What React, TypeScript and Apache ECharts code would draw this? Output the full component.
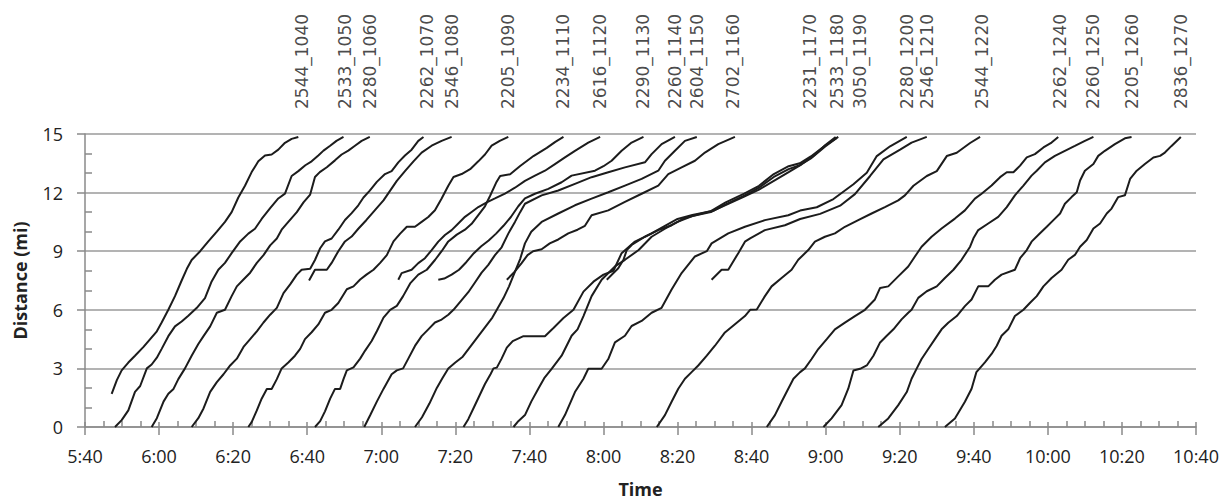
import React, { useEffect, useRef } from "react";
import * as echarts from "echarts";

// time in minutes after midnight, distance in miles
const timeMin = 340; // 5:40
const timeMax = 640; // 10:40
const distTicks = [0, 3, 6, 9, 12, 15];

const tripLabels = [
  "2544_1040", "2533_1050", "2280_1060", "2262_1070", "2546_1080", "2205_1090",
  "2234_1110", "2616_1120", "2290_1130", "2260_1140", "2604_1150", "2702_1160",
  "2231_1170", "2533_1180", "3050_1190", "2280_1200", "2546_1210", "2544_1220",
  "2262_1240", "2260_1250", "2205_1260", "2836_1270",
];
const labelTimes = [
  398.5, 410.2, 417.0, 432.3, 439.0, 454.3, 469.2, 479.1, 490.7, 499.3, 505.2, 515.0,
  535.8, 543.0, 549.3, 561.9, 567.3, 582.1, 603.3, 612.2, 622.7, 636.0,
];

const trip1040 = [[347.2,1.7],[348.6,2.4],[349.9,2.9],[351.7,3.3],[353.5,3.65],[355.8,4.1],[357.6,4.5],[359.4,4.9],[360.7,5.35],[362.5,6.0],[364.3,6.7],[366.1,7.5],[367.5,8.1],[368.8,8.55],[371.1,9.0],[373.3,9.5],[375.6,10.0],[377.8,10.5],[379.6,11.0],[381.4,11.75],[383.2,12.35],[385,13.05],[386.8,13.6],[388.6,13.9],[390.4,13.95],[392.2,14.2],[394,14.55],[395.8,14.75],[397.6,14.85]];
const trip1050 = [[348.1,0],[349.9,0.35],[351.7,0.85],[353.5,1.8],[354.9,2.1],[356.7,3.0],[358,3.2],[359.4,3.55],[360.7,4.0],[362.5,4.65],[364.3,5.15],[366.1,5.4],[367.9,5.7],[370.2,6.1],[372.4,6.6],[374.2,7.45],[376,8.05],[377.8,8.4],[379.6,8.9],[381.9,9.5],[384.1,9.9],[385.9,10.15],[387.7,10.65],[390,11.2],[392.2,11.7],[394,11.95],[395.8,12.85],[397.6,13.1],[399.5,13.4],[401.2,13.6],[403,13.9],[404.4,14.15],[406.2,14.4],[407.9,14.65],[409.8,14.85]];
const trip1060 = [[358,0],[359.4,0.45],[361.2,1.3],[362.5,1.7],[363.9,1.95],[365.2,2.45],[367,3.0],[368.8,3.65],[370.6,4.25],[372,4.65],[373.8,5.15],[375.6,5.85],[377.8,6.0],[379.6,6.7],[381,7.2],[382.8,7.55],[384.6,7.9],[386.4,8.4],[388.2,8.8],[390,9.3],[391.8,9.65],[393.1,10.1],[394.9,10.5],[397.2,11.0],[399,11.5],[400.8,11.9],[402.1,12.8],[403.4,13.05],[405.3,13.3],[407.5,13.65],[409.3,13.95],[411.1,14.15],[412.9,14.4],[414.7,14.65],[416.9,14.85]];
const trip1070 = [[368.8,0],[370.6,0.45],[372,0.95],[373.8,1.8],[375.6,2.3],[377.4,2.7],[379.2,3.15],[381,3.5],[382.8,4.1],[384.6,4.5],[386.4,4.9],[388.2,5.35],[390,5.75],[391.8,6.1],[393.6,6.85],[395.4,7.3],[397.2,7.8],[398.5,8.05],[400.8,8.1],[402.1,8.55],[403.5,9.15],[404.8,9.5],[406.6,9.65],[408.4,10.1],[410.2,10.6],[412,10.95],[413.8,11.35],[415.2,11.75],[416.9,12.1],[418.8,12.55],[421,12.95],[422.8,13.1],[424.6,13.55],[426.4,13.9],[428.2,14.2],[430,14.65],[431.4,14.85]];
const trip1080 = [[400.5,7.5],[402.1,8.05],[405.3,8.05],[406.6,8.4],[408.4,9.0],[410.2,9.5],[412,9.75],[413.8,10.15],[416,10.6],[418.3,11.1],[420.6,11.6],[422.4,12.1],[424.2,12.6],[426.4,13.1],[428.7,13.6],[430.9,14.05],[433.6,14.4],[436.3,14.65],[439,14.85]];
const trip1090 = [[384.1,0],[385,0.25],[386.4,0.85],[387.7,1.45],[389.1,1.95],[390.4,1.95],[391.8,2.45],[393.1,3.0],[394.9,3.3],[396.7,3.65],[398.1,4.0],[399.4,4.5],[401.2,4.85],[403,5.25],[404.8,5.85],[406.6,6.0],[408.4,6.35],[410.7,7.05],[412.5,7.2],[414.3,7.55],[416,7.8],[417.9,8.05],[419.7,8.4],[421.5,8.8],[423.3,9.5],[425.1,9.9],[426.9,10.25],[429.1,10.25],[430.9,10.5],[432.7,10.75],[434.5,11.1],[436.3,11.7],[438.1,12.35],[439.5,12.8],[441.7,12.95],[444,13.2],[446.2,13.6],[448,13.95],[449.8,14.4],[452,14.65],[454.3,14.85]];
const trip1110 = [[402.1,0],[403.5,0.3],[404.8,0.8],[406.2,1.45],[407.5,1.95],[408.9,1.95],[409.8,2.45],[410.7,2.9],[412.5,3.05],[414.3,3.5],[415.6,3.9],[417.4,4.4],[418.8,4.9],[420.6,5.6],[422.4,6.0],[424.2,6.2],[425.9,6.7],[427.8,7.35],[430,7.8],[432.3,8.05],[434.5,8.55],[436.3,9.0],[438.1,9.5],[440.4,9.85],[442.6,10.1],[444.4,10.4],[446.2,10.85],[448,11.3],[449.4,11.84],[451,12.5],[452.1,12.85],[454.8,12.94],[457.5,13.36],[461.1,13.87],[464.7,14.29],[467,14.6],[469.2,14.85]];
const trip1120 = [[424.6,7.54],[425.5,7.88],[428.2,8.05],[430,8.39],[431.8,8.64],[433.6,9.06],[435.4,9.49],[437.2,9.83],[439,10.08],[440.8,10.42],[442.6,10.76],[444.4,11.01],[446.2,11.26],[448.5,11.5],[450.7,11.7],[453.4,11.95],[456.1,12.25],[458.8,12.6],[461.5,12.87],[464.2,13.12],[466.9,13.46],[469.6,13.8],[472.3,14.14],[475.9,14.56],[479.1,14.85]];
const trip1130 = [[435.4,7.54],[437,7.6],[439,7.8],[441,8.05],[443,8.45],[445,8.9],[447,9.25],[449,9.55],[451,9.9],[453,10.3],[455,10.75],[457,11.3],[458.8,11.7],[461.5,11.94],[465.1,12.19],[468.7,12.53],[471.4,12.87],[477.7,13.12],[480,13.35],[482.2,13.63],[484.9,14.14],[487.6,14.56],[490.8,14.85]];
const trip1140 = [[415.4,0],[417,0.6],[418.8,1.3],[420.6,1.95],[422.8,2.7],[424.2,2.9],[425.9,3.0],[427.3,3.5],[429.1,4.15],[430.9,4.65],[432.7,5.0],[434.5,5.35],[436.3,5.5],[438.1,5.75],[439.5,6.0],[441.7,6.5],[443.5,6.9],[445.3,7.4],[447.1,7.9],[448.9,8.3],[450.7,8.8],[452.5,9.2],[454.3,9.9],[456.1,10.5],[457.5,11.0],[458.8,11.43],[463.3,11.86],[467.8,12.11],[472.3,12.45],[476.8,12.79],[481.3,13.04],[485.8,13.29],[491.2,13.55],[493,13.97],[495.7,14.48],[499.3,14.85]];
const trip1150 = [[429.1,0],[431,0.5],[433,1.2],[435,2.0],[436.5,2.5],[438.1,3.0],[440,3.3],[442,3.6],[444,4.1],[446,4.6],[448,5.1],[450,5.6],[451.2,6.0],[453,6.6],[454.5,7.2],[456,7.9],[457.5,8.6],[458.8,9.4],[460.5,10.0],[463.3,10.5],[467.8,10.93],[472.3,11.35],[476.8,11.69],[481.3,12.02],[485.8,12.36],[490.3,12.7],[494.8,13.12],[496.6,13.63],[499.3,14.14],[502,14.65],[505.2,14.85]];
const trip1160 = [[453.9,7.54],[455.7,7.88],[457.9,8.39],[459.5,8.8],[461,9.0],[463.3,9.1],[465.5,9.4],[467.8,9.6],[470.5,9.91],[473,10.1],[475,10.3],[476.8,10.84],[481.3,11.09],[485.8,11.52],[490.3,11.94],[494.8,12.36],[497.5,12.95],[501.1,13.29],[504.7,13.63],[507.4,14.05],[511,14.48],[515.5,14.85]];
const trip1170 = [[442.2,0],[443.5,0.4],[445,1.0],[446.5,1.6],[448,2.2],[449.5,2.7],[450.3,3.0],[451.2,3.04],[452.5,3.5],[453.9,4.06],[455.5,4.4],[458.4,4.65],[464.2,4.65],[466.5,5.07],[469.2,5.58],[471.9,6.0],[474.6,6.93],[477.3,7.44],[480,7.8],[482.7,8.0],[484.9,8.9],[488.5,9.49],[493,9.91],[496.6,10.3],[500,10.65],[504,10.85],[509,11.05],[513,11.5],[518,11.95],[522,12.35],[526,12.95],[530,13.35],[533,13.5],[536,13.85],[539.8,14.4],[543.4,14.85]];
const trip1180 = [[455.7,0],[457,0.3],[458.8,0.61],[460.5,1.3],[462.4,1.96],[464,2.5],[466,2.98],[468.7,3.65],[471.4,4.67],[473,5.0],[474.6,5.68],[476.8,6.7],[479.5,7.54],[483.1,8.22],[485.8,8.56],[489.5,9.06],[493,9.74],[496.6,10.15],[500,10.5],[504,10.8],[509,11.0],[513,11.4],[518,11.85],[522,12.25],[526,12.8],[530,13.2],[533,13.4],[536,13.75],[539.8,14.35],[543,14.8]];
const trip1190 = [[480.9,7.54],[482.7,7.88],[484,8.13],[485.4,8.56],[486.3,9.06],[487.6,9.32],[491.2,9.74],[494.8,10.08],[498.4,10.33],[502,10.7],[506,10.9],[510,11.1],[514,11.45],[518,11.8],[522,12.15],[526,12.6],[530,13.05],[533.5,13.45],[536.5,13.85],[540,14.45],[542.7,14.85]];
const trip1200 = [[467.8,0],[469.6,0.61],[472.3,1.79],[474.6,2.47],[475.9,2.98],[479.5,2.98],[481.3,3.48],[483.1,4.33],[485.8,4.67],[487.6,5.17],[490.3,5.43],[493,5.85],[495.7,6.1],[498.4,7.04],[501.1,7.88],[504.7,8.73],[507.9,9.0],[509.2,9.4],[513.7,9.91],[518.2,10.25],[523.6,10.59],[529.9,10.84],[533.1,11.08],[537.6,11.25],[542.1,11.67],[547.5,12.43],[551.1,13.02],[553.8,13.87],[557.4,14.37],[561.9,14.85]];
const trip1210 = [[509.2,7.54],[511.9,8.05],[513.7,8.05],[516.4,8.9],[518.2,9.49],[519.6,9.66],[523.6,10.08],[529,10.33],[533.1,10.65],[538.5,10.91],[543.9,11.33],[547.9,11.92],[552,12.85],[555.6,13.7],[560.1,14.2],[563.2,14.56],[567.3,14.85]];
const trip1220 = [[494.4,0],[496.6,0.61],[498.4,1.29],[500.2,1.96],[502,2.47],[503.8,2.81],[505.6,3.15],[507.9,3.65],[510.1,4.16],[512.8,4.84],[515.5,5.26],[518.2,5.68],[519.6,6.0],[521.4,6.02],[523.6,6.7],[525.4,7.2],[528.1,7.63],[530.8,8.05],[532.6,8.56],[535.3,9.06],[537.1,9.49],[539.8,9.74],[542.5,9.91],[545.2,10.25],[548.8,10.59],[552.4,10.93],[556,11.26],[559.6,11.6],[561.4,11.86],[563.7,12.35],[567.3,12.85],[570,13.1],[572.7,13.87],[575.4,14.04],[579,14.54],[581.7,14.85]];
const trip1240 = [[524.1,0],[526.3,0.61],[528.1,1.29],[529.9,1.96],[531.3,2.47],[533.1,2.81],[534.4,3.0],[536.2,3.48],[538,3.99],[540.3,4.5],[542.5,5.0],[545.2,5.34],[547.9,5.68],[550.6,6.0],[553.3,6.53],[554.7,7.12],[556.9,7.2],[559.6,7.71],[562.3,8.22],[564.1,8.73],[565.9,9.23],[568.6,9.74],[571.3,10.16],[574.9,10.67],[577.6,11.09],[580.3,11.69],[582.1,11.94],[584.8,12.36],[587.1,12.79],[588.9,13.04],[590.7,13.04],[592.5,13.38],[594.3,13.8],[596.5,13.97],[598.8,14.31],[601,14.56],[602.8,14.85]];
const trip1250 = [[539.4,0],[541.6,0.44],[544.3,1.12],[546.1,1.96],[547.5,2.89],[549.3,2.98],[551.1,3.15],[552.9,3.65],[554.7,4.33],[556.5,4.67],[558.3,5.0],[560.5,5.51],[562.3,5.85],[563.2,6.0],[565,6.61],[567.3,6.95],[570,7.2],[572.2,7.63],[574.5,8.05],[576.7,8.56],[579,9.23],[579.9,9.66],[581.2,10.08],[583.9,10.42],[586.6,10.76],[588.9,11.26],[591.1,11.86],[593.4,12.36],[595.6,12.87],[597,13.12],[599.2,13.55],[601.9,13.88],[604.6,14.14],[607.3,14.39],[610,14.65],[612.3,14.85]];
const trip1260 = [[554.2,0],[556.9,0.44],[559.6,1.12],[561.9,1.79],[563.2,2.47],[564.6,3.0],[565.9,3.48],[567.7,3.99],[569.5,4.5],[571.3,5.0],[573.1,5.34],[575.4,5.68],[577.6,6.19],[579.4,6.53],[581.2,7.2],[583.9,7.2],[585.7,7.54],[587.5,7.8],[591.1,8.05],[592.5,8.64],[594.3,9.06],[595.6,9.49],[597.4,9.83],[599.7,10.25],[601.5,10.59],[603.3,10.93],[604.6,11.43],[606.4,11.77],[607.8,12.02],[608.7,12.62],[610,13.12],[612.3,13.46],[613.6,13.88],[615.4,14.14],[618.1,14.48],[620.8,14.78],[622.6,14.85]];
const trip1270 = [[572.2,0],[574.9,0.44],[577.6,1.29],[579.4,1.96],[580.7,2.81],[583,3.31],[584.8,3.74],[586.2,4.16],[587.5,4.67],[589.3,5.0],[591.1,5.68],[593.4,6.0],[595.2,6.36],[597,6.7],[598.8,7.2],[601,7.63],[603.7,8.05],[605.5,8.56],[607.3,8.81],[608.7,9.23],[610.5,9.57],[612.3,10.16],[614.1,10.42],[615.9,10.93],[617.2,11.18],[619,11.77],[620.8,11.86],[622.2,12.7],[624,13.12],[626.2,13.46],[628.5,13.8],[630.3,13.88],[631.6,14.05],[633.4,14.39],[635.9,14.85]];

const trips = [
  trip1040, trip1050, trip1060, trip1070, trip1080, trip1090, trip1110, trip1120,
  trip1130, trip1140, trip1150, trip1160, trip1170, trip1180, trip1190, trip1200,
  trip1210, trip1220, trip1240, trip1250, trip1260, trip1270,
];

const fmtTime = (v: number) => {
  const h = Math.floor(v / 60);
  const m = Math.round(v - h * 60);
  return `${h}:${String(m).padStart(2, "0")}`;
};

export default function App() {
  const ref = useRef<HTMLDivElement>(null);
  useEffect(() => {
    if (!ref.current) return;
    const chart = echarts.init(ref.current, null, { renderer: "svg" });
    const axisGray = "#8a8a8a";
    const labelFont = { fontFamily: "Open Sans", fontSize: 18, color: "#222" };
    const nameFont = { fontFamily: "Open Sans", fontWeight: "bold", fontSize: 18, color: "#222" };
    const option: any = {
      animation: false,
      backgroundColor: "#fff",
      grid: { left: 85, right: 35, top: 134, bottom: 73, containLabel: false },
      xAxis: [
        {
          type: "value",
          min: timeMin,
          max: timeMax,
          interval: 20,
          name: "Time",
          nameLocation: "middle",
          nameGap: 53,
          nameTextStyle: nameFont,
          axisLine: { show: true, onZero: false, lineStyle: { color: axisGray, width: 1.5 } },
          axisTick: { show: true, length: 8, lineStyle: { color: axisGray, width: 1.5 } },
          minorTick: { show: true, splitNumber: 4, length: -6, lineStyle: { color: axisGray, width: 1.5 } },
          axisLabel: { ...labelFont, margin: 20, formatter: fmtTime },
          splitLine: { show: false },
        },
        {
          type: "value",
          min: timeMin,
          max: timeMax,
          interval: 20,
          position: "bottom",
          axisLine: { show: false },
          axisTick: { show: true, inside: true, length: 5, lineStyle: { color: axisGray, width: 1.5 } },
          axisLabel: { show: false },
          splitLine: { show: false },
        },
      ],
      yAxis: {
        type: "value",
        min: distTicks[0],
        max: distTicks[distTicks.length - 1],
        interval: 3,
        name: "Distance (mi)",
        nameLocation: "middle",
        nameGap: 56,
        nameRotate: 90,
        nameTextStyle: nameFont,
        axisLine: { show: true, lineStyle: { color: axisGray, width: 1.5 } },
        axisTick: { show: true, length: 8, lineStyle: { color: axisGray, width: 1.5 } },
        minorTick: { show: true, splitNumber: 3, length: -7, lineStyle: { color: axisGray, width: 1.5 } },
        axisLabel: { ...labelFont, margin: 22 },
        splitLine: { show: true, lineStyle: { color: "#9a9a9a", width: 1.5 } },
      },
      series: [
        ...trips.map((d, i) => ({
          name: tripLabels[i],
          type: "line",
          data: d,
          showSymbol: false,
          silent: true,
          lineStyle: { color: "#1c1c1c", width: 2 },
          z: 3,
        })),
        {
          type: "scatter",
          silent: true,
          symbolSize: 0,
          data: labelTimes.map((t, i) => ({ value: [t, distTicks[distTicks.length - 1]], name: tripLabels[i] })),
          label: {
            show: true,
            position: "top",
            distance: 25,
            rotate: 90,
            align: "left",
            verticalAlign: "middle",
            formatter: (p: any) => p.name,
            fontFamily: "DejaVu Sans",
            fontSize: 17,
            color: "#1a1a1a",
          },
        },
      ],
    };
    chart.setOption(option);
    return () => chart.dispose();
  }, []);
  return (
    <div
      ref={ref}
      style={{ position: "fixed", left: 0, top: 0, width: 1231, height: 503, background: "#fff" }}
    />
  );
}
